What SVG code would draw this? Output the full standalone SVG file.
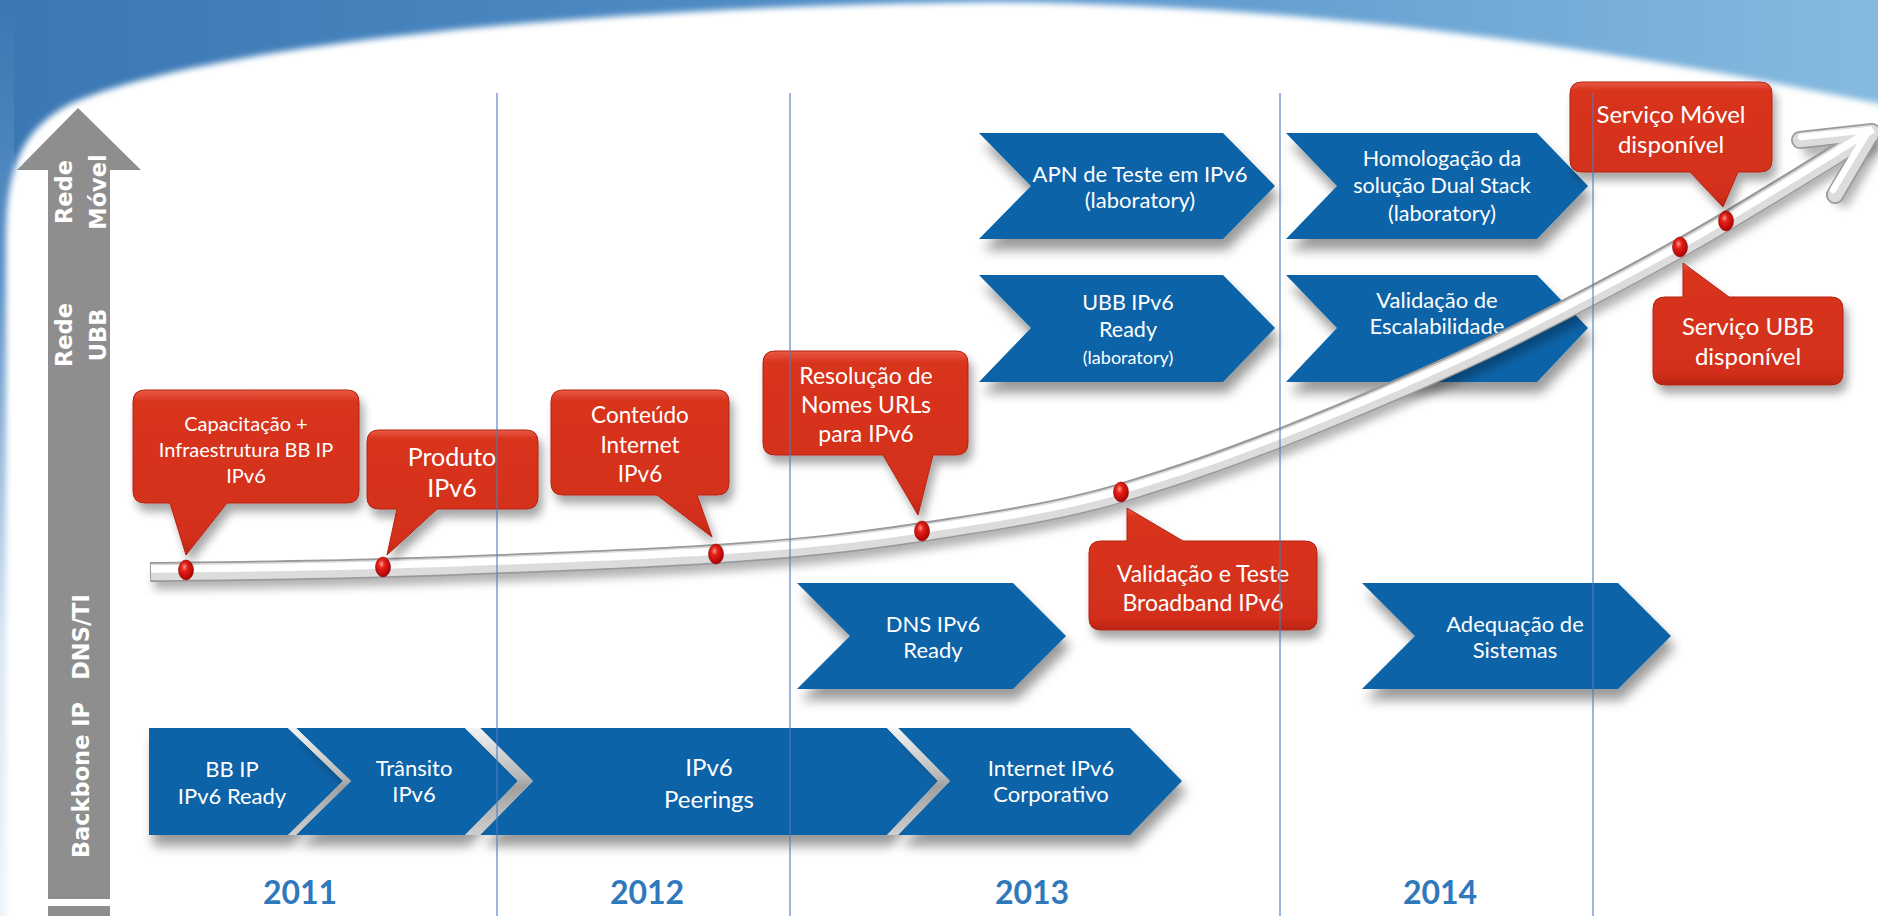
<svg xmlns="http://www.w3.org/2000/svg" width="1878" height="916" viewBox="0 0 1878 916">
<defs>
<style>
.chev{fill:#0763a8;filter:url(#sh)}
.gap{fill:url(#silver)}
.ct{font-family:Lato,"Liberation Sans",sans-serif;fill:#fff;text-anchor:middle}
.call{fill:url(#redg);stroke:#b32412;stroke-width:1;filter:url(#sh2)}
.rot{font-family:"DejaVu Sans",sans-serif;font-weight:bold;font-size:22.5px;fill:#fff;text-anchor:middle}
.yr{font-family:Lato,"Liberation Sans",sans-serif;font-weight:bold;font-size:32px;fill:#2e78bb;text-anchor:middle}
.vl{stroke:#4a7ebf;stroke-width:1.3;opacity:0.85}
.dot{fill:url(#dotg);stroke:#9a0000;stroke-width:0.6}
</style>
<linearGradient id="band" x1="0" y1="0" x2="1" y2="0">
<stop offset="0" stop-color="#3a77b3"/><stop offset="0.5" stop-color="#5592c9"/><stop offset="1" stop-color="#86badf"/>
</linearGradient>
<linearGradient id="leftstrip" x1="0" y1="0" x2="0" y2="1">
<stop offset="0" stop-color="#3a77b3"/><stop offset="0.3" stop-color="#5a90c6"/><stop offset="0.7" stop-color="#d8e6f3"/><stop offset="1" stop-color="#eef4fa"/>
</linearGradient>
<linearGradient id="silver" x1="0" y1="0" x2="0" y2="1">
<stop offset="0" stop-color="#f4f4f4"/><stop offset="0.45" stop-color="#b8b8b8"/><stop offset="0.55" stop-color="#a0a0a0"/><stop offset="1" stop-color="#cfcfcf"/>
</linearGradient>
<linearGradient id="redg" x1="0" y1="0" x2="0" y2="1">
<stop offset="0" stop-color="#ea5b45"/><stop offset="0.07" stop-color="#d8341e"/><stop offset="0.9" stop-color="#d32f1a"/><stop offset="1" stop-color="#b82614"/>
</linearGradient>
<radialGradient id="dotg" cx="0.4" cy="0.35" r="0.7">
<stop offset="0" stop-color="#ff9a8a"/><stop offset="0.3" stop-color="#e8201a"/><stop offset="1" stop-color="#a00000"/>
</radialGradient>
<filter id="sh" x="-20%" y="-30%" width="140%" height="180%">
<feGaussianBlur in="SourceAlpha" stdDeviation="6"/><feOffset dx="4" dy="11"/>
<feComponentTransfer><feFuncA type="linear" slope="0.4"/></feComponentTransfer>
<feMerge><feMergeNode/><feMergeNode in="SourceGraphic"/></feMerge>
</filter>
<filter id="sh2" x="-20%" y="-30%" width="140%" height="170%">
<feGaussianBlur in="SourceAlpha" stdDeviation="5"/><feOffset dx="4" dy="8"/>
<feComponentTransfer><feFuncA type="linear" slope="0.35"/></feComponentTransfer>
<feMerge><feMergeNode/><feMergeNode in="SourceGraphic"/></feMerge>
</filter>
<filter id="blur3"><feGaussianBlur stdDeviation="3"/></filter>
<filter id="blur5"><feGaussianBlur stdDeviation="5"/></filter>
<path id="pipeline" d="M150,572 C188.8,571.3 288.7,571 383,568 C477.3,565 626,560 716,554 C806,548 855.5,542.2 923,532 C990.5,521.8 1061.5,511 1121,493 C1182,474.5 1218,462 1280,438 C1344,413 1440,372 1507,339 C1573,306 1619,282 1680,248 C1740.8,214.5 1840,151.3 1872,132"/>
</defs>

<!-- background -->
<rect x="0" y="0" width="1878" height="916" fill="#ffffff"/>
<rect x="0" y="0" width="1878" height="200" fill="url(#band)"/>
<rect x="0" y="0" width="14" height="916" fill="url(#leftstrip)"/>
<path d="M6,930 L6,240 C6,170 20,130 70,104 C200,45 600,5 1000,2 C1300,5 1600,45 1890,106 L1890,930 Z" fill="#ffffff" filter="url(#blur3)"/>

<!-- axis arrow -->
<g id="axis">
<polygon points="78,108 141,170 110,170 110,899 48,899 48,170 17,170" fill="#8e8e8e"/>
<rect x="48" y="906" width="62" height="10" fill="#8e8e8e"/>
<text class="rot" transform="translate(71.5,192) rotate(-90)">Rede</text>
<text class="rot" transform="translate(105.5,192) rotate(-90)">Móvel</text>
<text class="rot" transform="translate(71.5,335) rotate(-90)">Rede</text>
<text class="rot" transform="translate(105.5,335) rotate(-90)">UBB</text>
<text class="rot" transform="translate(89,637) rotate(-90)">DNS/TI</text>
<text class="rot" transform="translate(89,780) rotate(-90)">Backbone IP</text>
</g>

<!-- chevrons -->
<g id="apn"><polygon class="chev" points="979,133 1223,133 1275,186 1223,239 979,239 1031,186"/>
<text class="ct" font-size="22"><tspan x="1140" y="182">APN de Teste em IPv6</tspan><tspan x="1140" y="208">(laboratory)</tspan></text></g>
<g id="homolog"><polygon class="chev" points="1286,133 1537,133 1588,186 1537,239 1286,239 1337,186"/>
<text class="ct" font-size="21.5"><tspan x="1442" y="166">Homologação da</tspan><tspan x="1442" y="193">solução Dual Stack</tspan><tspan x="1442" y="221">(laboratory)</tspan></text></g>
<g id="ubb"><polygon class="chev" points="979,275 1223,275 1275,328 1223,382 979,382 1031,328"/>
<text class="ct" font-size="21.5"><tspan x="1128" y="310">UBB IPv6</tspan><tspan x="1128" y="337">Ready</tspan><tspan x="1128" y="364" font-size="18">(laboratory)</tspan></text></g>
<g id="escal"><polygon class="chev" points="1286,275 1537,275 1588,328 1537,382 1286,382 1337,328"/>
<text class="ct" font-size="22"><tspan x="1437" y="308">Validação de</tspan><tspan x="1437" y="334">Escalabilidade</tspan></text></g>
<g id="dns"><polygon class="chev" points="797,583 1013,583 1066,636 1013,689 797,689 850,636"/>
<text class="ct" font-size="22"><tspan x="933" y="632">DNS IPv6</tspan><tspan x="933" y="658">Ready</tspan></text></g>
<g id="adeq"><polygon class="chev" points="1362,583 1618,583 1671,636 1618,689 1362,689 1415,636"/>
<text class="ct" font-size="22"><tspan x="1515" y="632">Adequação de</tspan><tspan x="1515" y="658">Sistemas</tspan></text></g>

<g id="backbone">
<polygon class="chev" points="149,728 288,728 343,781 288,835 149,835"/>
<polygon class="chev" points="296,728 465,728 518,781 465,835 296,835 351,781"/>
<polygon class="chev" points="480,728 887,728 938,781 887,835 480,835 533,781"/>
<polygon class="chev" points="898,728 1130,728 1182,781 1130,835 898,835 950,781"/>
<polygon class="gap" points="288,728 296,728 351,781 296,835 288,835 343,781"/>
<polygon class="gap" points="465,728 480,728 533,781 480,835 465,835 518,781"/>
<polygon class="gap" points="887,728 898,728 950,781 898,835 887,835 938,781"/>
<text class="ct" font-size="22"><tspan x="232" y="777">BB IP</tspan><tspan x="232" y="804">IPv6 Ready</tspan></text>
<text class="ct" font-size="22"><tspan x="414" y="776">Trânsito</tspan><tspan x="414" y="802">IPv6</tspan></text>
<text class="ct" font-size="24"><tspan x="709" y="776">IPv6</tspan><tspan x="709" y="808">Peerings</tspan></text>
<text class="ct" font-size="22"><tspan x="1051" y="776">Internet IPv6</tspan><tspan x="1051" y="802">Corporativo</tspan></text>
</g>

<!-- growth pipe -->
<g id="connectors">
<g transform="translate(4,9)" filter="url(#blur5)" fill="none" stroke="#000" stroke-opacity="0.3" stroke-width="17" stroke-linejoin="round">
<use href="#pipeline"/>
<path d="M1800,140 L1872,132 L1835,195"/>
</g>
<use href="#pipeline" fill="none" stroke="#9a9a9a" stroke-width="20"/>
<path d="M1800,140 L1872,132 L1835,195" fill="none" stroke="#9a9a9a" stroke-width="18" stroke-linejoin="round" stroke-linecap="round"/>
<use href="#pipeline" fill="none" stroke="#dcdcdc" stroke-width="16.5" transform="translate(1,0)"/>
<path d="M1800,140 L1872,132 L1835,195" fill="none" stroke="#dcdcdc" stroke-width="14.5" stroke-linejoin="round" stroke-linecap="round"/>
<use href="#pipeline" fill="none" stroke="#ffffff" stroke-width="7.5" transform="translate(1,-3)"/>
<path d="M1802,139 L1870,132 L1834,192" fill="none" stroke="#ffffff" stroke-width="6.5" stroke-linejoin="round" stroke-linecap="round" transform="translate(-1,-2)"/>
</g>

<!-- dots -->
<g id="dots">
<ellipse class="dot" cx="186" cy="570" rx="7.5" ry="10"/>
<ellipse class="dot" cx="383" cy="567" rx="7.5" ry="10"/>
<ellipse class="dot" cx="716" cy="554" rx="7.5" ry="10"/>
<ellipse class="dot" cx="922" cy="531" rx="7.5" ry="10"/>
<ellipse class="dot" cx="1121" cy="492" rx="7.5" ry="10"/>
<ellipse class="dot" cx="1680" cy="247" rx="7.5" ry="10"/>
<ellipse class="dot" cx="1726" cy="221" rx="7.5" ry="10"/>
</g>

<!-- callouts -->
<g id="c1"><path class="call" d="M145,390 H347 Q359,390 359,402 V491 Q359,503 347,503 H227 L186,555 L170,503 H145 Q133,503 133,491 V402 Q133,390 145,390 Z"/>
<text class="ct" font-size="20"><tspan x="246" y="431">Capacitação +</tspan><tspan x="246" y="457">Infraestrutura BB IP</tspan><tspan x="246" y="483">IPv6</tspan></text></g>
<g id="c2"><path class="call" d="M379,430 H526 Q538,430 538,442 V497 Q538,509 526,509 H437 L387,555 L397,509 H379 Q367,509 367,497 V442 Q367,430 379,430 Z"/>
<text class="ct" font-size="25"><tspan x="452" y="466">Produto</tspan><tspan x="452" y="497">IPv6</tspan></text></g>
<g id="c3"><path class="call" d="M563,390 H717 Q729,390 729,402 V483 Q729,495 717,495 H697 L712,537 L657,495 H563 Q551,495 551,483 V402 Q551,390 563,390 Z"/>
<text class="ct" font-size="22.5"><tspan x="640" y="423">Conteúdo</tspan><tspan x="640" y="453">Internet</tspan><tspan x="640" y="482">IPv6</tspan></text></g>
<g id="c4"><path class="call" d="M775,351 H956 Q968,351 968,363 V443 Q968,455 956,455 H933 L918,515 L883,455 H775 Q763,455 763,443 V363 Q763,351 775,351 Z"/>
<text class="ct" font-size="23"><tspan x="866" y="384">Resolução de</tspan><tspan x="866" y="413">Nomes URLs</tspan><tspan x="866" y="442">para IPv6</tspan></text></g>
<g id="c5"><path class="call" d="M1101,541 H1127 L1127,508 L1183,541 H1305 Q1317,541 1317,553 V618 Q1317,630 1305,630 H1101 Q1089,630 1089,618 V553 Q1089,541 1101,541 Z"/>
<text class="ct" font-size="23"><tspan x="1203" y="582">Validação e Teste</tspan><tspan x="1203" y="611">Broadband IPv6</tspan></text></g>
<g id="c6"><path class="call" d="M1582,82 H1760 Q1772,82 1772,94 V160 Q1772,172 1760,172 H1738 L1723,207 L1690,172 H1582 Q1570,172 1570,160 V94 Q1570,82 1582,82 Z"/>
<text class="ct" font-size="24"><tspan x="1671" y="123">Serviço Móvel</tspan><tspan x="1671" y="153">disponível</tspan></text></g>
<g id="c7"><path class="call" d="M1665,297 H1683 L1683,263 L1729,297 H1831 Q1843,297 1843,309 V373 Q1843,385 1831,385 H1665 Q1653,385 1653,373 V309 Q1653,297 1665,297 Z"/>
<text class="ct" font-size="24"><tspan x="1748" y="335">Serviço UBB</tspan><tspan x="1748" y="365">disponível</tspan></text></g>

<!-- year dividers and labels -->
<g id="years">
<line class="vl" x1="497" y1="93" x2="497" y2="916"/>
<line class="vl" x1="790" y1="93" x2="790" y2="916"/>
<line class="vl" x1="1280" y1="93" x2="1280" y2="916"/>
<line class="vl" x1="1593" y1="93" x2="1593" y2="916"/>
<text class="yr" x="300" y="904">2011</text>
<text class="yr" x="647" y="904">2012</text>
<text class="yr" x="1032" y="904">2013</text>
<text class="yr" x="1440" y="904">2014</text>
</g>
</svg>
